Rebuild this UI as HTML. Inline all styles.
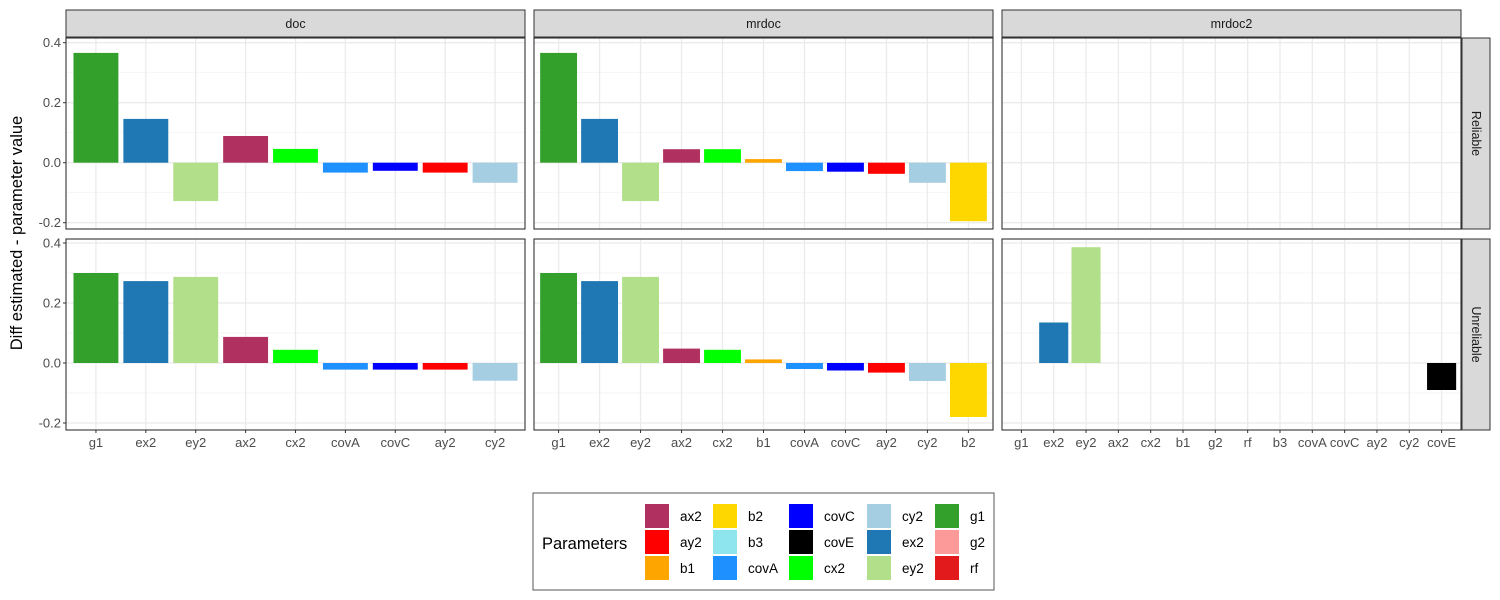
<!DOCTYPE html>
<html><head><meta charset="utf-8"><style>
body{margin:0;background:#fff;}
svg{display:block;font-family:"Liberation Sans",sans-serif;}
</style></head><body>
<svg id="chart" width="1500" height="600"></svg>
<script>
const palette = {ax2:"#B03060",ay2:"#FF0000",b1:"#FFA500",b2:"#FFD700",b3:"#8EE5EE",covA:"#1E90FF",covC:"#0000FF",covE:"#000000",cx2:"#00FF00",cy2:"#A6CEE3",ex2:"#1F78B4",ey2:"#B2DF8A",g1:"#33A02C",g2:"#FB9A99",rf:"#E31A1C"};
const panelNames = ["doc","mrdoc","mrdoc2"];
const rowNames = ["Reliable","Unreliable"];
const docCats = ["g1","ex2","ey2","ax2","cx2","covA","covC","ay2","cy2"];
const mrdocCats = ["g1","ex2","ey2","ax2","cx2","b1","covA","covC","ay2","cy2","b2"];
const mrdoc2Cats = ["g1","ex2","ey2","ax2","cx2","b1","g2","rf","b3","covA","covC","ay2","cy2","covE"];
const docReliable = [0.366,0.146,-0.128,0.089,0.046,-0.033,-0.027,-0.033,-0.067];
const docUnreliable = [0.300,0.273,0.287,0.087,0.044,-0.022,-0.022,-0.022,-0.059];
const mrdocReliable = [0.366,0.146,-0.128,0.045,0.045,0.012,-0.028,-0.030,-0.037,-0.067,-0.195];
const mrdocUnreliable = [0.300,0.273,0.287,0.048,0.044,0.012,-0.020,-0.025,-0.032,-0.060,-0.180];
const mrdoc2Reliable = [null,null,null,null,null,null,null,null,null,null,null,null,null,null];
const mrdoc2Unreliable = [null,0.135,0.386,null,null,null,null,null,null,null,null,null,null,-0.090];
const yTicks = [-0.2,0.0,0.2,0.4];
const yTickLabels = ["-0.2","0.0","0.2","0.4"];
const legendOrder = ["ax2","ay2","b1","b2","b3","covA","covC","covE","cx2","cy2","ex2","ey2","g1","g2","rf"];

const NS="http://www.w3.org/2000/svg";
const svg=document.getElementById('chart');
function mk(tag,attrs,parent){const e=document.createElementNS(NS,tag);for(const k in attrs)e.setAttribute(k,attrs[k]);(parent||svg).appendChild(e);return e;}

const cats=[docCats,mrdocCats,mrdoc2Cats];
const vals=[[docReliable,docUnreliable],[mrdocReliable,mrdocUnreliable],[mrdoc2Reliable,mrdoc2Unreliable]];
const colX=[[66,525],[534,993],[1002,1461]];
const rowY=[[38,229],[239,430]];
const zeroY=[162.7,363];
function yScale(r,v){return zeroY[r]-v*300;}

const yt=mk('text',{x:0,y:0,transform:'translate(22,233) rotate(-90)','text-anchor':'middle','font-size':'16.5',fill:'#000'});


yt.textContent='Diff estimated - parameter value';

for(let c=0;c<3;c++){
  const [x0,x1]=colX[c];const n=cats[c].length;const band=(x1-x0)/(n+0.2);
  const xs=i=>x0+band*(0.6+i);
  const st=mk('rect',{x:x0,y:10,width:x1-x0,height:27,fill:'#D9D9D9',stroke:'#333','stroke-width':1});
  
  
  const stt=mk('text',{x:(x0+x1)/2,y:28,'text-anchor':'middle','font-size':'12.5',fill:'#1A1A1A'});
  
  
  stt.textContent=panelNames[c];
  for(let r=0;r<2;r++){
    const [y0,y1]=rowY[r];
    const g=mk('g',{});
    
    
    mk('rect',{x:x0,y:y0,width:x1-x0,height:y1-y0,fill:'#fff'},g);
    for(let k=0;k<yTicks.length-1;k++){const yy=yScale(r,(yTicks[k]+yTicks[k+1])/2);mk('line',{x1:x0,x2:x1,y1:yy,y2:yy,stroke:'#F2F2F2','stroke-width':0.7},g);}
    for(const t of yTicks){const yy=yScale(r,t);mk('line',{x1:x0,x2:x1,y1:yy,y2:yy,stroke:'#EBEBEB','stroke-width':1.3},g);}
    for(let i=0;i<n;i++){mk('line',{x1:xs(i),x2:xs(i),y1:y0,y2:y1,stroke:'#EBEBEB','stroke-width':1.3},g);}
    const vs=vals[c][r];
    for(let i=0;i<n;i++){
      const v=vs[i];if(v===null||v===undefined)continue;
      const ya=yScale(r,v),yb=yScale(r,0);
      const b=mk('rect',{x:xs(i)-band*0.45,y:Math.min(ya,yb),width:band*0.9,height:Math.abs(yb-ya),fill:palette[cats[c][i]]},g);
      
      
    }
    mk('rect',{x:x0,y:y0,width:x1-x0,height:y1-y0,fill:'none',stroke:'#333','stroke-width':1.1},g);
    if(c===0){
      for(let k=0;k<yTicks.length;k++){const yy=yScale(r,yTicks[k]);
        mk('line',{x1:x0-3,x2:x0,y1:yy,y2:yy,stroke:'#333'});
        const tl=mk('text',{x:x0-5,y:yy+4.5,'text-anchor':'end','font-size':'13',fill:'#4D4D4D'});
        
        
        tl.textContent=yTickLabels[k];}
    }
    if(c===2){
      const rs=mk('rect',{x:1462,y:y0,width:28,height:y1-y0,fill:'#D9D9D9',stroke:'#333','stroke-width':1});
      
      
      const rt=mk('text',{x:0,y:0,transform:`translate(1472,${(y0+y1)/2}) rotate(90)`,'text-anchor':'middle','font-size':'12.5',fill:'#1A1A1A'});
      
      
      rt.textContent=rowNames[r];
    }
  }
  for(let i=0;i<n;i++){
    mk('line',{x1:xs(i),x2:xs(i),y1:430,y2:433,stroke:'#333'});
    const xl=mk('text',{x:xs(i),y:447,'text-anchor':'middle','font-size':'13',fill:'#4D4D4D'});
    
    
    xl.textContent=cats[c][i];
  }
}
const lg=mk('g',{});


mk('rect',{x:533,y:493,width:461,height:97,fill:'#fff',stroke:'#555','stroke-width':1},lg);
const lt=mk('text',{x:542,y:549,'font-size':'16.5',fill:'#000'},lg);


lt.textContent='Parameters';
const keyX=[645,713,789,867,935];
legendOrder.forEach((p,i)=>{
  const col=Math.floor(i/3),row=i%3;
  const e=mk('g',{},lg);
  
  
  mk('rect',{x:keyX[col],y:504+row*26,width:24,height:24,fill:palette[p]},e);
  const t=mk('text',{x:keyX[col]+35,y:521+row*26,'font-size':'13.5',fill:'#000'},e);
  t.textContent=p;
});
</script>
</body></html>
